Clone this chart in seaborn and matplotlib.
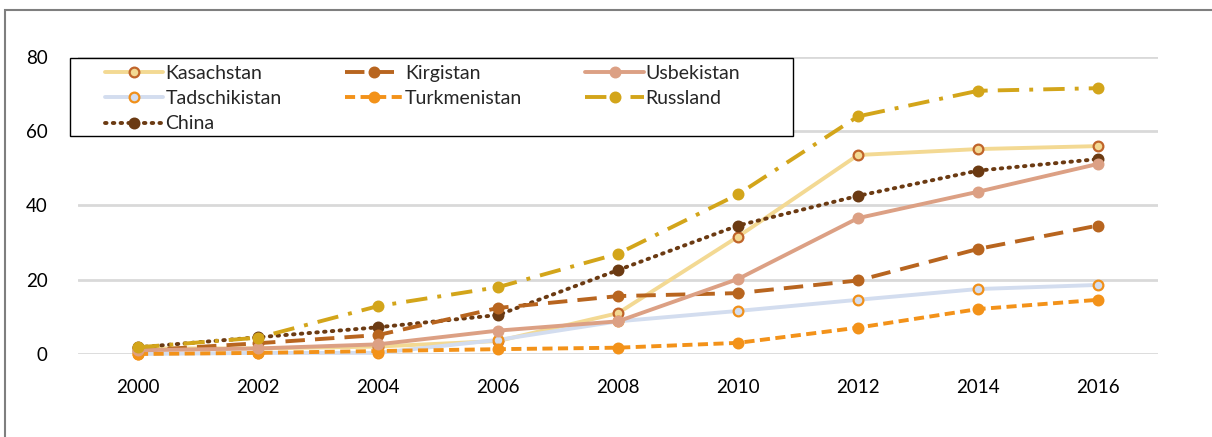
import matplotlib
matplotlib.use("Agg")
import matplotlib.pyplot as plt
import seaborn as sns
from matplotlib.patches import Rectangle

# Daten
years = [2000, 2002, 2004, 2006, 2008, 2010, 2012, 2014, 2016]
kasachstan = [1.5, 1.5, 2.0, 3.5, 11.0, 31.6, 53.6, 55.2, 56.0]
kirgistan = [0.9, 2.9, 5.1, 12.4, 15.6, 16.4, 19.8, 28.3, 34.6]
usbekistan = [1.0, 1.5, 2.6, 6.3, 8.8, 20.2, 36.6, 43.7, 51.2]
tadschikistan = [0.0, 0.3, 0.3, 3.8, 8.8, 11.6, 14.6, 17.5, 18.6]
turkmenistan = [0.0, 0.3, 0.8, 1.3, 1.7, 3.0, 7.1, 12.1, 14.6]
russland = [1.8, 4.4, 12.9, 18.0, 27.0, 43.0, 64.0, 70.9, 71.6]
china = [1.8, 4.5, 7.2, 10.5, 22.6, 34.6, 42.6, 49.4, 52.5]

y_ticks = [0, 20, 40, 60, 80]

sns.set_style("white")
plt.rcParams["font.family"] = ["Lato", "DejaVu Sans"]

fig = plt.figure(figsize=(12.12, 4.37), dpi=100)
ax = fig.add_axes([78 / 1212, 83 / 437, 1080 / 1212, 297 / 437])

# Reihenfolge so, dass die Legende zeilenweise wie im Original aussieht
series = [
    ("Kasachstan", kasachstan, "#f3d993", "-", "#f3d993", "#c0642a"),
    ("Tadschikistan", tadschikistan, "#d3ddef", "-", "#d3ddef", "#f0901a"),
    ("China", china, "#6b3a12", (0, (0.4, 1.6)), "#6b3a12", "#6b3a12"),
    ("Kirgistan", kirgistan, "#b8651f", (0, (5.0, 2.6)), "#b8651f", "#b8651f"),
    ("Turkmenistan", turkmenistan, "#f39219", (0, (2.6, 1.4)), "#f39219", "#f39219"),
    ("Usbekistan", usbekistan, "#dca084", "-", "#dca084", "#dca084"),
    ("Russland", russland, "#d3a51a", (0, (5.5, 2.6, 1.0, 2.6)), "#d3a51a", "#d3a51a"),
]

for name, vals, col, ls, face, edge in series:
    sns.lineplot(
        x=years, y=vals, ax=ax, label=name, color=col, linestyle=ls,
        linewidth=2.8, marker="o", markersize=7, markerfacecolor=face,
        markeredgecolor=edge, markeredgewidth=1.6, clip_on=False,
        dash_capstyle="round" if name == "China" else "butt",
    )

ax.set_xlim(1999, 2017)
ax.set_ylim(0, 80)
ax.set_xticks(years)
ax.set_xticklabels([str(y) for y in years])
ax.set_yticks(y_ticks)
ax.tick_params(axis="both", length=0, labelsize=13.5, colors="black")
ax.tick_params(axis="x", pad=18)
ax.tick_params(axis="y", pad=22)
ax.yaxis.grid(True, color="#d9d9d9", linewidth=2)
ax.set_axisbelow(True)
for s in ax.spines.values():
    s.set_visible(False)
ax.set_xlabel("")
ax.set_ylabel("")

# Legendenkasten (weiß gefüllt, schwarzer Rand)
ax.add_patch(Rectangle((-8 / 1080, 218 / 297), 723 / 1080, 78 / 297,
                       transform=ax.transAxes, facecolor="white",
                       edgecolor="black", linewidth=1.0, zorder=4,
                       clip_on=False))

leg = ax.legend(
    loc="upper left", bbox_to_anchor=(27 / 1080, 289 / 297),
    ncol=3, fontsize=14, frameon=False,
    handlelength=3.0, handletextpad=0.1, borderpad=0, labelspacing=0.42,
    borderaxespad=0, columnspacing=3.25,
)
leg.set_zorder(5)

# Rahmen um die Grafik
fig.patches.append(Rectangle((5 / 1212, -0.1), 1.2, 427 / 437 + 0.1,
                             transform=fig.transFigure, fill=False,
                             edgecolor="#7f7f7f", linewidth=1.5))

fig.savefig("out.png", dpi=100)
